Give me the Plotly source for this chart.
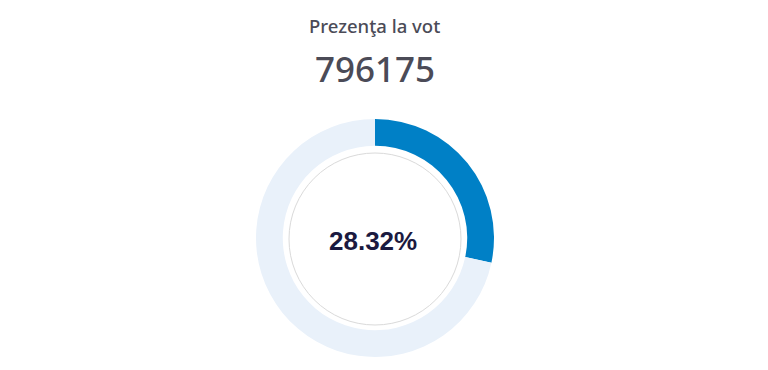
import plotly.graph_objects as go

W, H = 768, 370
title_text = "Prezenţa la vot"
turnout_votes = 796175
turnout_pct = 28.32
labels = ["Prezenţă", "Absenţă"]
values = [turnout_pct, 100 - turnout_pct]
colors = ["#0080C6", "#E9F1FA"]

cx, cy, R = 375, 238, 119

fig = go.Figure(go.Pie(
    labels=labels, values=values, hole=0.775, sort=False,
    direction="clockwise", rotation=0,
    marker=dict(colors=colors, line=dict(width=0)),
    textinfo="none", hoverinfo="none", showlegend=False,
    domain=dict(x=[(cx - R) / W, (cx + R) / W], y=[1 - (cy + R) / H, 1 - (cy - R) / H]),
))

r2 = 86
fig.add_shape(type="circle", xref="paper", yref="paper",
              x0=(cx - r2) / W, x1=(cx + r2) / W,
              y0=1 - (cy + 1 + r2) / H, y1=1 - (cy + 1 - r2) / H,
              line=dict(color="#DADADA", width=1), fillcolor="rgba(0,0,0,0)")

fig.add_annotation(x=374 / W, y=1 - 26 / H, xref="paper", yref="paper",
                   xanchor="center", yanchor="middle",
                   text=title_text, showarrow=False,
                   font=dict(family="Noto Sans", size=18.5, weight=500, color="#4B4B57"))
fig.add_annotation(x=375 / W, y=1 - 68 / H, xref="paper", yref="paper",
                   xanchor="center", yanchor="middle",
                   text=str(turnout_votes), showarrow=False,
                   font=dict(family="Noto Sans", size=35, weight=500, color="#4B4B57"))
fig.add_annotation(x=373 / W, y=1 - 241 / H, xref="paper", yref="paper",
                   xanchor="center", yanchor="middle",
                   text=f"<b>{turnout_pct:.2f}%</b>", showarrow=False,
                   font=dict(family="Liberation Sans", size=26, color="#1B1A40"))

fig.update_layout(width=W, height=H, margin=dict(l=0, r=0, t=0, b=0),
                  paper_bgcolor="white", plot_bgcolor="white")
fig.write_html("out.html")
